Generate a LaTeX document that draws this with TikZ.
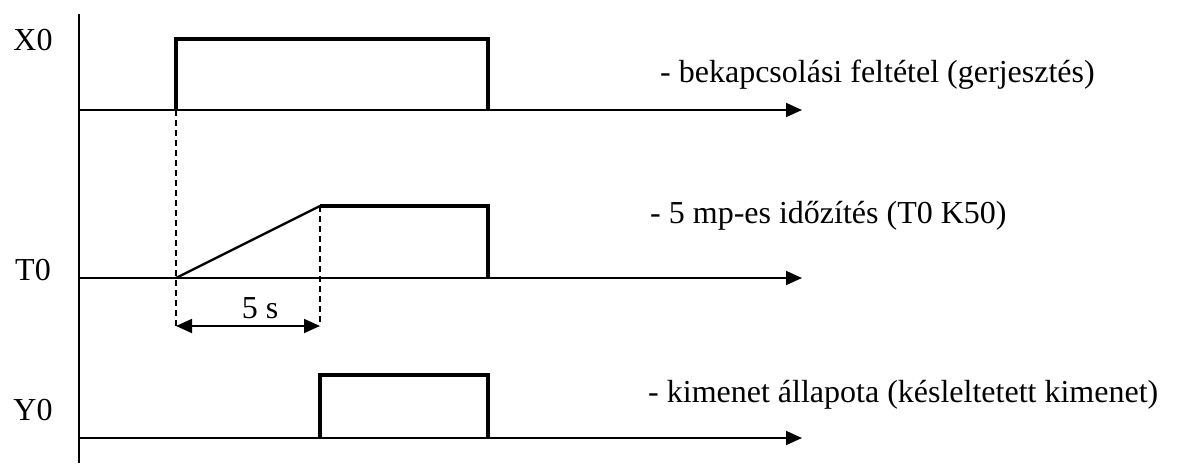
\documentclass[tikz,border=0pt]{standalone}
\usepackage{fontspec}
\setmainfont{Liberation Serif}
\usetikzlibrary{arrows.meta}
\begin{document}
\begin{tikzpicture}[x=1pt,y=-1pt,
  axis/.style={line width=1.8pt},
  taxis/.style={line width=1.8pt,-{Triangle[length=16pt,width=14pt]}},
  sig/.style={line width=3.6pt,line join=miter},
  ramp/.style={line width=2.4pt},
  guide/.style={line width=1.6pt,dash pattern=on 6pt off 4pt},
  dim/.style={line width=1.8pt,{Triangle[length=16pt,width=14pt]}-{Triangle[length=16pt,width=14pt]}},
  lbl/.style={font=\fontsize{32}{36}\selectfont,inner sep=0pt},
  desc/.style={font=\fontsize{32}{36}\selectfont,inner sep=0pt,anchor=west}]
\useasboundingbox (0,0) rectangle (1179,465);
% coordinates
\coordinate (vtop) at (79,14);
\coordinate (vbot) at (79,463);
\coordinate (xa0) at (79,110);
\coordinate (xa1) at (802,110);
\coordinate (ta0) at (79,278);
\coordinate (ta1) at (802,278);
\coordinate (ya0) at (79,438);
\coordinate (ya1) at (802,438);
% vertical axis
\draw[axis] (vtop) -- (vbot);
% time axes
\draw[taxis] (xa0) -- (xa1);
\draw[taxis] (ta0) -- (ta1);
\draw[taxis] (ya0) -- (ya1);
% X0 signal
\coordinate (x1) at (176,110);
\coordinate (x2) at (176,39);
\coordinate (x3) at (488,39);
\coordinate (x4) at (488,110);
\draw[sig] (x1) -- (x2) -- (x3) -- (x4);
% T0 signal
\coordinate (t1) at (176,278);
\coordinate (t2) at (320,206);
\coordinate (t3) at (488,206);
\coordinate (t4) at (488,278);
\draw[ramp] (t1) -- (t2);
\draw[sig] (t2) -- (t3) -- (t4);
% Y0 signal
\coordinate (y1) at (320,438);
\coordinate (y2) at (320,375);
\coordinate (y3) at (488,375);
\coordinate (y4) at (488,438);
\draw[sig] (y1) -- (y2) -- (y3) -- (y4);
% dashed guides
\coordinate (d1) at (176,326);
\coordinate (d2) at (320,326);
\draw[guide] (x1) -- (d1);
\draw[guide] (t2) -- (d2);
% dimension
\draw[dim] (d1) -- (d2);
\node[lbl] (l5) at (260,308) {5 s};
% labels
\node[lbl] (lx) at (33,40) {X0};
\node[lbl] (lt) at (33,270) {T0};
\node[lbl] (ly) at (33,410) {Y0};
\node[desc] (dx) at (660,75) {- bekapcsolási feltétel (gerjesztés)};
\node[desc] (dt) at (650,216) {- 5 mp-es időzítés (T0 K50)};
\node[desc] (dy) at (648,395) {- kimenet állapota (késleltetett kimenet)};
\end{tikzpicture}
\end{document}
